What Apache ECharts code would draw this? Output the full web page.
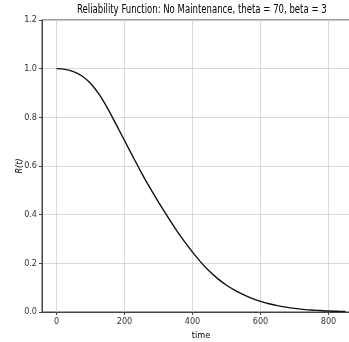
<!DOCTYPE html>
<html>
<head>
<meta charset="utf-8">
<script src="https://cdn.jsdelivr.net/npm/echarts@6/dist/echarts.min.js"></script>
<style>
html,body{margin:0;padding:0;background:#fff;}
#chart{width:349px;height:342px;}
</style>
</head>
<body>
<div id="chart"></div>
<script>
const titleText = 'Reliability Function: No Maintenance, theta = 70, beta = 3';
const xName = 'time';
const yName = 'R(t)';
const timeValues = [0,25,50,75,100,125,150,175,200,225,250,275,300,325,350,375,400,425,450,475,500,525,550,575,600,625,650,675,700,725,750,775,800,825,850];
const reliability = [1.000,0.997,0.988,0.970,0.940,0.895,0.838,0.772,0.705,0.638,0.572,0.510,0.452,0.396,0.342,0.292,0.246,0.204,0.167,0.136,0.110,0.089,0.071,0.056,0.044,0.034,0.026,0.020,0.015,0.011,0.008,0.006,0.004,0.003,0.002];
const xTicks = [0,200,400,600,800];

const fontFam = "'DejaVu Sans Condensed','Liberation Sans Narrow','DejaVu Sans',sans-serif";
const chart = echarts.init(document.getElementById('chart'), null, {renderer:'canvas'});
chart.setOption({
  animation:false,
  backgroundColor:'#fff',
  graphic:[{type:'text',left:77,top:3,scaleX:0.73,
    style:{text:titleText,fontFamily:fontFam,fontSize:13,fill:'#000'}}],
  grid:{left:42,width:318,top:20,bottom:30,show:true,borderColor:'#444',borderWidth:1,backgroundColor:'transparent',containLabel:false,outerBoundsMode:'none'},
  xAxis:{type:'value',min:-42.5,max:892.5,
    name:xName,nameLocation:'middle',nameGap:15,nameTextStyle:{fontFamily:fontFam,fontSize:9,color:'#000'},
    axisLine:{show:true,onZero:false,lineStyle:{color:'#444',width:1}},
    axisTick:{show:true,customValues:xTicks,length:3,lineStyle:{color:'#444'}},
    axisLabel:{customValues:xTicks,fontFamily:fontFam,fontSize:9,color:'#333',margin:5},
    splitLine:{show:true,customValues:xTicks,lineStyle:{color:'#cfcfcf',width:0.8}}
  },
  yAxis:{type:'value',min:0,max:1.2,interval:0.2,
    name:yName,nameLocation:'middle',nameGap:18,nameMoveOverlap:false,nameTextStyle:{fontFamily:fontFam,fontSize:9,fontStyle:'italic',color:'#000'},
    axisLine:{show:true,onZero:false,lineStyle:{color:'#444',width:1}},
    axisTick:{show:true,length:3,lineStyle:{color:'#444'}},
    axisLabel:{fontFamily:fontFam,fontSize:9,color:'#333',margin:5,formatter:v=>v.toFixed(1)},
    splitLine:{show:true,lineStyle:{color:'#cfcfcf',width:0.8}}
  },
  series:[{type:'line',data:timeValues.map((t,i)=>[t,reliability[i]]),showSymbol:false,smooth:0.3,
    lineStyle:{color:'#111',width:1.4}}]
});
</script>
</body>
</html>
